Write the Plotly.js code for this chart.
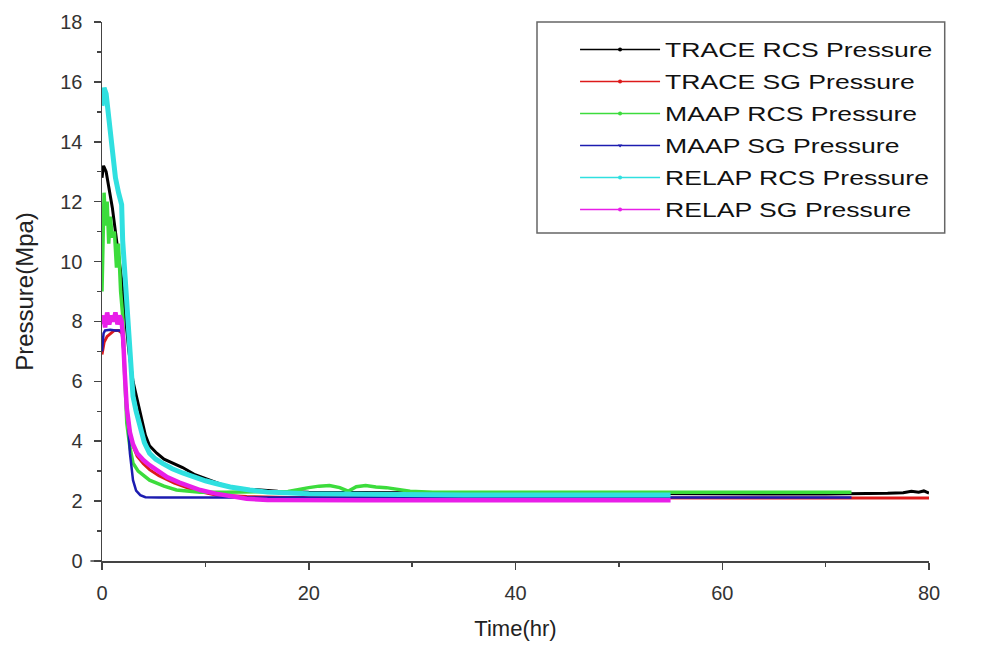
<!DOCTYPE html>
<html>
<head>
<meta charset="utf-8">
<script src="https://cdn.plot.ly/plotly-3.0.1.min.js"></script>
<style>
  html, body { margin: 0; padding: 0; background: #fff; }
  #chart { width: 987px; height: 648px; }
  .legendtext { transform: scaleX(1.33); transform-box: fill-box; transform-origin: 0 50%; }
</style>
</head>
<body>
<div id="chart"></div>
<script>
// ---- data (time in hr, pressure in MPa) ----
const seriesNames = ["TRACE RCS Pressure", "TRACE SG Pressure", "MAAP RCS Pressure",
                     "MAAP SG Pressure", "RELAP RCS Pressure", "RELAP SG Pressure"];
const seriesColors = ["#000000", "#dd1a1a", "#3cdc3c", "#1c1cb0", "#30e0e0", "#e81ee8"];

const traceRcsT = [0, 0.15, 0.4, 0.7, 1.0, 1.3, 1.6, 1.9, 2.2, 2.6, 3.0, 3.4, 3.8, 4.2, 4.6, 5.3, 6.0, 6.9, 7.8, 9.0, 10.4, 12, 14, 17, 20, 26, 30, 35, 40, 45, 50, 55, 60, 65, 70, 72.5, 74, 76, 77.5, 78.3, 79, 79.5, 80];
const traceRcsP = [12.8, 13.2, 13.0, 12.4, 11.8, 11.0, 10.2, 9.4, 8.4, 7.0, 6.0, 5.4, 4.7, 4.2, 3.85, 3.6, 3.4, 3.25, 3.12, 2.88, 2.7, 2.5, 2.4, 2.33, 2.3, 2.28, 2.28, 2.27, 2.27, 2.26, 2.26, 2.25, 2.25, 2.24, 2.24, 2.25, 2.24, 2.26, 2.28, 2.33, 2.30, 2.34, 2.27];

const traceSgT = [0, 0.2, 0.5, 0.8, 1.2, 1.6, 2.0, 2.2, 2.4, 2.7, 3.0, 3.4, 4.0, 4.6, 5.5, 7, 9, 11, 14, 18, 25, 35, 45, 55, 65, 72.5, 75, 78, 80];
const traceSgP = [6.9, 7.3, 7.5, 7.6, 7.7, 7.7, 7.6, 6.3, 5.1, 4.3, 3.85, 3.5, 3.25, 3.05, 2.85, 2.6, 2.35, 2.2, 2.15, 2.12, 2.12, 2.12, 2.12, 2.12, 2.12, 2.12, 2.1, 2.1, 2.1];

const maapRcsT = [0, 0.1, 0.2, 0.35, 0.5, 0.65, 0.8, 1.0, 1.2, 1.4, 1.6, 1.8, 2.0, 2.2, 2.4, 2.7, 3.0, 3.5, 4.0, 4.6, 5.3, 6.0, 7.2, 8.5, 9.5, 12, 14, 16, 18, 20, 21, 22, 23, 23.8, 24.6, 25.5, 26.5, 27.5, 28.5, 29.8, 32, 36, 40, 45, 50, 55, 60, 65, 70, 72.5];
const maapRcsP = [9.0, 10.5, 12.3, 11.2, 12.0, 10.6, 11.5, 10.8, 11.0, 9.8, 10.6, 9.0, 8.2, 6.2, 4.6, 3.8, 3.27, 3.0, 2.85, 2.7, 2.6, 2.5, 2.37, 2.32, 2.3, 2.3, 2.3, 2.3, 2.32, 2.45, 2.5, 2.52, 2.45, 2.33, 2.48, 2.52, 2.47, 2.45, 2.4, 2.33, 2.3, 2.3, 2.3, 2.3, 2.3, 2.3, 2.3, 2.3, 2.3, 2.3];

const maapSgT = [0, 0.15, 0.3, 0.8, 1.3, 1.9, 2.1, 2.3, 2.5, 2.7, 3.0, 3.3, 3.7, 4.2, 5.5, 7, 9, 11, 13, 15, 20, 25, 30, 35, 40, 45, 50, 55, 60, 65, 70, 72.5];
const maapSgP = [7.0, 7.6, 7.7, 7.72, 7.7, 7.7, 6.9, 5.8, 4.5, 3.6, 2.7, 2.35, 2.2, 2.13, 2.12, 2.13, 2.12, 2.12, 2.12, 2.12, 2.12, 2.12, 2.12, 2.12, 2.12, 2.12, 2.1, 2.1, 2.12, 2.1, 2.1, 2.12];

const relapRcsT = [0, 0.2, 0.4, 0.7, 1.0, 1.3, 1.6, 1.9, 2.0, 2.2, 2.4, 2.7, 3.0, 3.3, 3.7, 4.1, 4.6, 5.2, 5.9, 6.8, 7.8, 9.0, 10.0, 11.1, 12.4, 14.3, 16, 20, 25, 30, 35, 40, 45, 50, 55];
const relapRcsP = [15.2, 15.8, 15.6, 14.6, 13.6, 12.8, 12.3, 11.9, 10.7, 9.6, 8.5, 6.5, 5.5, 5.0, 4.4, 3.95, 3.6, 3.4, 3.25, 3.08, 2.94, 2.78, 2.68, 2.58, 2.47, 2.37, 2.3, 2.25, 2.22, 2.2, 2.2, 2.2, 2.2, 2.2, 2.2];

const relapSgT = [0, 0.15, 0.3, 0.5, 0.7, 0.9, 1.1, 1.3, 1.5, 1.7, 1.9, 2.05, 2.2, 2.4, 2.7, 3.0, 3.4, 4.0, 4.6, 5.5, 6.3, 7.5, 8.5, 9.5, 11, 12.7, 14, 16, 18, 25, 30, 35, 40, 45, 50, 55];
const relapSgP = [7.9, 8.2, 7.8, 8.3, 7.9, 8.2, 8.0, 8.3, 7.9, 8.2, 8.0, 7.4, 6.3, 5.1, 4.3, 3.9, 3.6, 3.37, 3.2, 2.98, 2.8, 2.62, 2.5, 2.37, 2.25, 2.14, 2.08, 2.04, 2.03, 2.03, 2.03, 2.03, 2.03, 2.03, 2.03, 2.03];

const xTickVals = [0, 20, 40, 60, 80];
const yTickVals = [0, 2, 4, 6, 8, 10, 12, 14, 16, 18];

const seriesT = [traceRcsT, traceSgT, maapRcsT, maapSgT, relapRcsT, relapSgT];
const seriesP = [traceRcsP, traceSgP, maapRcsP, maapSgP, relapRcsP, relapSgP];
const lineWidths = [3, 3, 3.5, 2.5, 5, 4.5];

const traces = [];
for (let i = 0; i < seriesNames.length; i++) {
  traces.push({
    x: seriesT[i], y: seriesP[i], type: 'scatter', mode: 'lines',
    line: {color: seriesColors[i], width: lineWidths[i]},
    showlegend: false, hoverinfo: 'skip'
  });
}
// legend entries (line + small symbol, as in the original)
for (let i = 0; i < seriesNames.length; i++) {
  traces.push({
    x: [null], y: [null], type: 'scatter', mode: 'lines+markers',
    name: seriesNames[i], legendgroup: 'g' + i,
    line: {color: seriesColors[i], width: 1.5},
    marker: {color: seriesColors[i], size: 4, symbol: i === 3 ? 'triangle-down' : 'circle'}
  });
}

const axisFont = {family: 'Liberation Sans, Arial, sans-serif', size: 20, color: '#333'};

const layout = {
  width: 987, height: 648,
  margin: {l: 102, r: 58, t: 22, b: 87},
  paper_bgcolor: '#fff', plot_bgcolor: '#fff',
  showlegend: true,
  legend: {
    x: 0.572, y: 0.985, xanchor: 'left', yanchor: 'top',
    bgcolor: 'rgba(0,0,0,0)', borderwidth: 0,
    font: {family: 'Liberation Sans, Arial, sans-serif', size: 20, color: '#111'},
    itemwidth: 80, tracegroupgap: 3
  },
  xaxis: {
    range: [0, 80], tickvals: xTickVals, ticktext: xTickVals.map(String),
    showline: true, linecolor: '#444', linewidth: 1.5, mirror: false,
    ticks: 'outside', ticklen: 7, tickwidth: 1.5, tickcolor: '#444',
    minor: {ticks: 'outside', dtick: 10, ticklen: 4, tickwidth: 1.5, tickcolor: '#444'},
    showgrid: false, zeroline: false, tickfont: axisFont, ticklabelstandoff: 6,
    title: {text: 'Time(hr)', font: {family: 'Liberation Sans, Arial, sans-serif', size: 22, color: '#222'}, standoff: 18}
  },
  yaxis: {
    range: [0, 18], tickvals: yTickVals, ticktext: yTickVals.map(String),
    showline: true, linecolor: '#444', linewidth: 1.5, mirror: false,
    ticks: 'outside', ticklen: 7, tickwidth: 1.5, tickcolor: '#444',
    minor: {ticks: 'outside', dtick: 1, ticklen: 4, tickwidth: 1.5, tickcolor: '#444'},
    showgrid: false, zeroline: false, tickfont: axisFont, ticklabelstandoff: 7,
    title: {text: 'Pressure(Mpa)', font: {family: 'Liberation Sans, Arial, sans-serif', size: 24, color: '#222'}, standoff: 20}
  },
  shapes: [
    {type: 'rect', xref: 'paper', yref: 'paper', x0: 0.526, x1: 1.019, y0: 0.6085, y1: 1.0,
     line: {color: '#666', width: 1.5}, fillcolor: 'rgba(0,0,0,0)', layer: 'above'},
    {type: 'line', xref: 'paper', yref: 'paper', x0: -0.014, x1: 0, y0: 0, y1: 0,
     line: {color: '#444', width: 1.5}}
  ]
};

Plotly.newPlot('chart', traces, layout, {displayModeBar: false, staticPlot: true});
</script>
</body>
</html>
